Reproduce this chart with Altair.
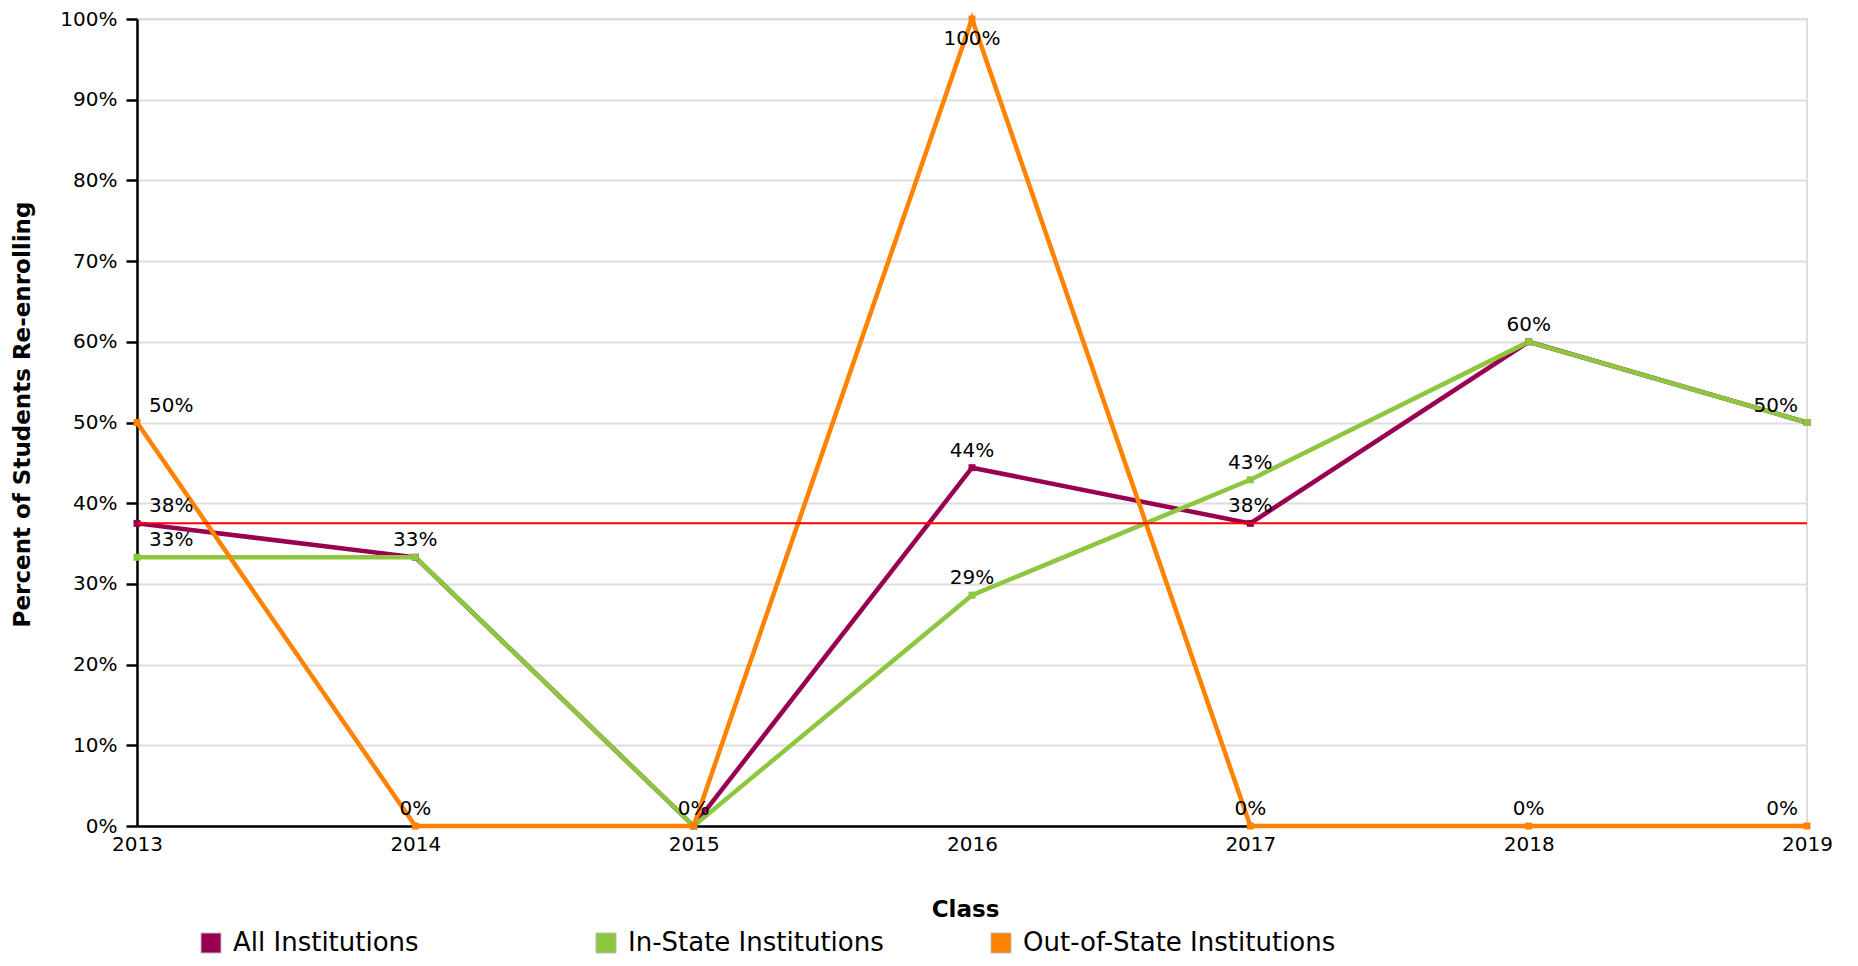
import altair as alt
import pandas as pd

years = [2013, 2014, 2015, 2016, 2017, 2018, 2019]
series_names = ["All Institutions", "In-State Institutions", "Out-of-State Institutions"]
all_inst = [0.375, 0.333, 0.0, 0.444, 0.375, 0.60, 0.50]
in_state = [0.333, 0.333, 0.0, 0.286, 0.429, 0.60, 0.50]
out_state = [0.50, 0.0, 0.0, 1.0, 0.0, 0.0, 0.0]
colors = ["#990050", "#8DC63F", "#FF8200"]
y_ticks = [0, 0.1, 0.2, 0.3, 0.4, 0.5, 0.6, 0.7, 0.8, 0.9, 1.0]

rows = []
for name, vals in zip(series_names, [all_inst, in_state, out_state]):
    for yr, v in zip(years, vals):
        rows.append({"year": yr, "value": v, "series": name})
df = pd.DataFrame(rows)

# data labels (overlapping identical labels at the same year shown once)
lab = df.copy()
lab["txt"] = lab["value"].apply(lambda v: f"{int(v * 100 + 0.5)}%")
lab = lab.drop_duplicates(subset=["year", "txt"]).copy()


def pos(r):
    if r["year"] == years[0]:
        return "left"
    if r["year"] == years[-1]:
        return "right"
    if r["value"] >= 1.0:
        return "below"
    return "center"


lab["pos"] = lab.apply(pos, axis=1)

FONT = "DejaVu Sans"
color_scale = alt.Scale(domain=series_names, range=colors)

x_enc = alt.X(
    "year:O",
    scale=alt.Scale(padding=0),
    axis=alt.Axis(
        title="Class", labelAngle=0, ticks=False, labelPadding=8, labelFontSize=20,
        labelColor="black", domainColor="black", domainWidth=2.5, grid=False,
        titleFontSize=23, titleFontWeight="bold", titleColor="black",
        titleX=828, titleY=83, titleBaseline="middle",
    ),
)
y_enc = alt.Y(
    "value:Q",
    scale=alt.Scale(domain=[0, 1], nice=False),
    axis=alt.Axis(
        title="Percent of Students Re-enrolling", values=y_ticks, format=".0%",
        labelFontSize=20, labelColor="black", labelPadding=9, tickSize=11,
        tickWidth=2.5, tickColor="black", domainColor="black", domainWidth=2.5,
        grid=True, gridColor="#dddddd", gridWidth=2,
        titleFontSize=23, titleFontWeight="bold", titleColor="black",
        titleX=-115, titleY=395, titleAngle=-90, titleAlign="center",
        titleBaseline="middle",
    ),
)

base = alt.Chart(df).encode(x=x_enc, y=y_enc)

lines = base.mark_line(strokeWidth=4.5).encode(
    stroke=alt.Stroke("series:N", scale=color_scale, legend=None)
)
points = base.mark_point(shape="square", filled=True, size=49, opacity=1).encode(
    color=alt.Color(
        "series:N", scale=color_scale,
        legend=alt.Legend(
            title=None, orient="none", legendX=61, legendY=911, direction="horizontal",
            columns=3, gridAlign="all", columnPadding=47, symbolType="square",
            symbolSize=400, symbolStrokeColor="#bbbbbb", symbolStrokeWidth=1,
            labelFontSize=26, labelOffset=9, labelLimit=500, labelColor="black",
            padding=0,
        ),
    )
)
avg = (
    alt.Chart(df)
    .transform_filter(alt.datum.series == series_names[0])
    .mark_rule(color="#FF0000", strokeWidth=2)
    .encode(y="mean(value):Q")
)

lab_base = alt.Chart(lab).encode(x="year:O", y="value:Q", text="txt:N")
t_left = lab_base.transform_filter(alt.datum.pos == "left").mark_text(
    align="left", baseline="alphabetic", dx=12, dy=-11, fontSize=20, color="black")
t_right = lab_base.transform_filter(alt.datum.pos == "right").mark_text(
    align="right", baseline="alphabetic", dx=-9, dy=-11, fontSize=20, color="black")
t_center = lab_base.transform_filter(alt.datum.pos == "center").mark_text(
    align="center", baseline="alphabetic", dy=-11, fontSize=20, color="black")
t_below = lab_base.transform_filter(alt.datum.pos == "below").mark_text(
    align="center", baseline="alphabetic", dy=26, fontSize=20, color="black")

chart = (
    alt.layer(lines, points, avg, t_left, t_right, t_center, t_below)
    .resolve_scale(color="independent", stroke="independent")
    .properties(
        width=1670, height=807,
        autosize=alt.AutoSizeParams(type="none"),
        padding={"left": 129, "top": 11, "right": 35, "bottom": 132},
    )
    .configure(font=FONT)
    .configure_view(stroke="#dddddd", strokeWidth=2)
)

chart.save("out.html", embed_options={"renderer": "svg", "actions": False})
